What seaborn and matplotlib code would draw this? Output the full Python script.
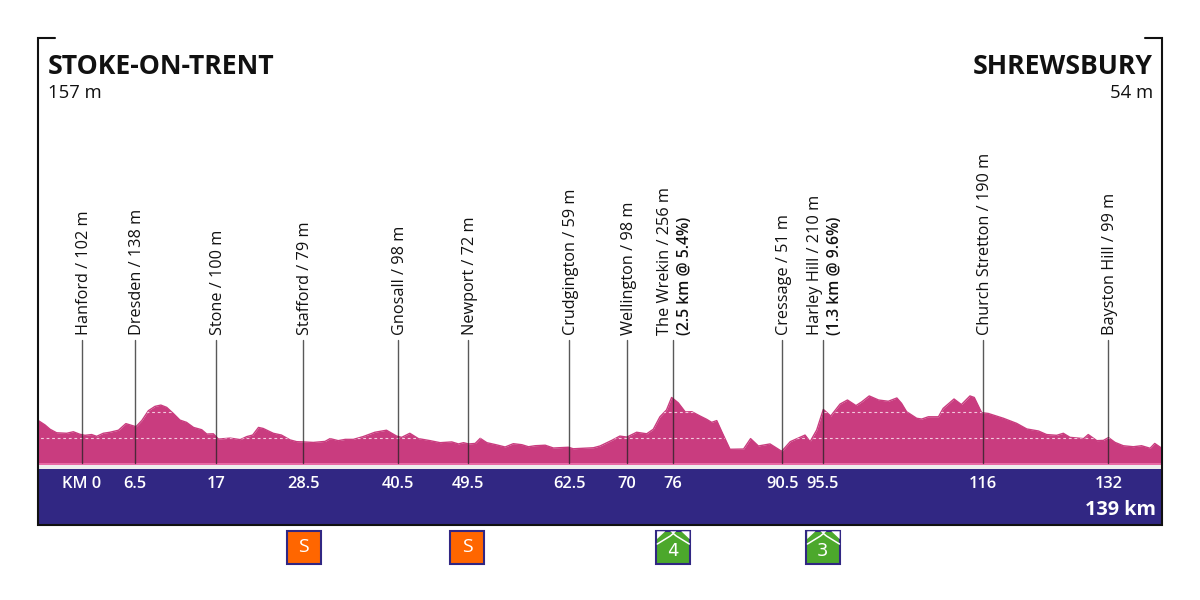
import matplotlib
matplotlib.use("Agg")
import matplotlib.pyplot as plt
import seaborn as sns
import pandas as pd
from matplotlib.patches import Rectangle, Polygon
from matplotlib.transforms import Affine2D

# profile
profile_km = [-5.55, -4.7, -4.05, -3.2, -1.9, -1.05, -0.2, 0.45, 1.3, 1.95, 2.8, 3.65, 4.75, 5.7, 6.45, 7.0,
              7.75, 8.6, 9.45, 10.2, 10.95, 11.8, 12.65, 13.5, 14.4, 15.45, 16.1, 16.95, 17.6, 19.1, 20.4,
              21.25, 22.0, 22.75, 23.35, 24.65, 25.7, 26.8, 27.65, 28.5, 29.8, 31.3, 31.95, 33.0, 33.9, 34.95,
              36.2, 37.7, 39.2, 40.5, 41.15, 42.2, 43.3, 44.8, 46.1, 47.6, 48.45, 49.1, 49.75, 50.6, 51.25,
              52.1, 53.4, 54.45, 55.5, 56.6, 57.45, 58.3, 59.6, 60.65, 62.6, 63.2, 65.8, 66.65, 68.15, 69.2,
              70.1, 71.35, 72.65, 73.5, 74.35, 75.2, 75.85, 76.7, 77.6, 78.45, 79.5, 80.35, 81.0, 81.65, 82.3,
              83.35, 85.1, 86.0, 87.0, 88.5, 90.0, 91.1, 93.0, 93.65, 94.5, 95.35, 96.3, 97.5, 98.45, 99.55,
              100.3, 101.25, 102.45, 103.7, 104.8, 105.4, 106.05, 107.35, 108.0, 108.85, 110.15, 110.75,
              112.15, 113.1, 114.2, 114.75, 115.7, 116.55, 118.5, 120.2, 121.5, 123.0, 124.05, 125.35, 126.2,
              127.05, 128.8, 129.4, 130.5, 131.35, 132.0, 132.85, 133.9, 135.2, 136.25, 137.35, 137.95, 138.85]
profile_m = [167, 150, 133, 119, 117, 123, 113, 109, 112, 105, 117, 121, 129, 155, 148, 143,
             167, 206, 223, 228, 219, 195, 169, 160, 140, 131, 114, 115, 94, 98, 92,
             104, 110, 140, 136, 117, 110, 91, 84, 83, 81, 85, 96, 88, 93, 93,
             104, 121, 129, 106, 101, 117, 96, 88, 80, 83, 75, 80, 75, 77, 97,
             80, 71, 63, 76, 72, 64, 68, 70, 59, 62, 56, 60, 67, 89, 106,
             102, 121, 115, 133, 182, 209, 258, 237, 201, 202, 185, 172, 160, 167, 123,
             54, 55, 96, 67, 75, 46, 84, 110, 84, 130, 211, 185, 232, 248, 226,
             241, 264, 248, 243, 256, 235, 202, 176, 173, 182, 182, 215,
             252, 230, 264, 258, 198, 195, 176, 156, 134, 126, 112, 109, 117,
             101, 96, 112, 88, 89, 100, 81, 68, 64, 68, 58, 77, 58]

# the printed km and where the stem really stands don't quite agree in the picture
stop_ticks = ["KM 0", "6.5", "17", "28.5", "40.5", "49.5", "62.5", "70", "76", "90.5", "95.5", "116", "132"]
stop_km = [0, 6.88, 17.3, 28.5, 40.7, 49.7, 62.7, 70.1, 76, 90.1, 95.3, 115.9, 132]
stop_names = ["Hanford / 102 m", "Dresden / 138 m", "Stone / 100 m", "Stafford / 79 m", "Gnosall / 98 m",
              "Newport / 72 m", "Crudgington / 59 m", "Wellington / 98 m", "The Wrekin / 256 m",
              "Cressage / 51 m", "Harley Hill / 210 m", "Church Stretton / 190 m", "Bayston Hill / 99 m"]
climb_notes = {"The Wrekin / 256 m": "(2.5 km @ 5.4%)", "Harley Hill / 210 m": "(1.3 km @ 9.6%)"}

sprint_km = [28.5, 49.5]
climb_km = [76, 95.3]
climb_cat = ["4", "3"]

PINK = "#c93c7f"
NAVY = "#312783"
GREEN = "#4ca82c"
INK = "#111111"

sns.set_style("white")
plt.rcParams["font.family"] = ["Open Sans", "DejaVu Sans"]

fig = plt.figure(figsize=(12, 6), dpi=100)
ax = fig.add_axes([0, 0, 1, 1])
# km 0 sits at pixel 81.5, sea level at pixel row 463
ax.set_xlim(-81.5 / 7.78, (1200 - 81.5) / 7.78)
ax.set_ylim((463 - 600) / 0.254, 463 / 0.254)

# pixel coordinates, origin top left, for the furniture around the profile
px = Affine2D().scale(1, -1).translate(0, 600)

df = pd.DataFrame({"km": profile_km, "m": profile_m})
fill = ax.fill_between(df["km"], df["m"], 0, color=PINK, lw=0, zorder=2)
sns.lineplot(data=df, x="km", y="m", color=PINK, lw=1, ax=ax, zorder=2, legend=False, errorbar=None, sort=False)
ax.set_axis_off()

for level in [100, 200]:
    ln, = ax.plot([-6, 139], [level, level], color="#f3c9dd", lw=0.8, ls=(0, (2.5, 2.5)), zorder=3)
    ln.set_clip_path(fill.get_paths()[0], ax.transData)

ax.add_patch(Rectangle((39, 463), 1122, 1.5, transform=px, fc="#e86aa6", lw=0, zorder=3))
ax.add_patch(Rectangle((39, 464.5), 1122, 4.5, transform=px, fc="#eeeeee", lw=0, zorder=3))
ax.add_patch(Rectangle((38, 469), 1124, 56, transform=px, fc=NAVY, lw=0, zorder=3))

# frame with the two short top corners
ax.plot([55, 38, 38, 1162, 1162, 1145], [38, 38, 525, 525, 38, 38], transform=px,
        color=INK, lw=1.5, solid_joinstyle="miter", zorder=5)

for km, tick, name in zip(stop_km, stop_ticks, stop_names):
    ax.plot([km, km], [0, 484], color="#222222", alpha=0.75, lw=1, zorder=4)
    xp = 81.5 + km * 7.78
    ax.text(xp, 484.5, tick, transform=px, ha="center", va="center", color="white",
            fontsize=11.8, fontweight="semibold", zorder=6)
    if name in climb_notes:
        ax.text(xp - 7.5, 335, name, transform=px, rotation=90, ha="center", va="bottom",
                fontsize=11.8, color=INK)
        ax.text(xp + 12, 335, climb_notes[name], transform=px, rotation=90, ha="center", va="bottom",
                fontsize=11.3, fontweight="semibold", color=INK)
    else:
        ax.text(xp + 2, 335, name, transform=px, rotation=90, ha="center", va="bottom",
                fontsize=11.7, color=INK)

ax.text(48, 67, "STOKE-ON-TRENT", transform=px, ha="left", va="center", fontsize=19.2, fontweight="bold", color=INK)
ax.text(48, 93.5, "157 m", transform=px, ha="left", va="center", fontsize=13.3, color=INK)
ax.text(1153, 67, "SHREWSBURY", transform=px, ha="right", va="center", fontsize=19.2, fontweight="bold", color=INK)
ax.text(1153, 93.5, "54 m", transform=px, ha="right", va="center", fontsize=13.3, color=INK)
ax.text(1156, 510, "139 km", transform=px, ha="right", va="center", fontsize=14.3, fontweight="bold", color="white", zorder=6)

for km in sprint_km:
    xp = 81.5 + km * 7.78
    ax.add_patch(Rectangle((xp - 16.5, 530.5), 34, 33.5, transform=px, fc="#ff6600", ec=NAVY, lw=1.5))
    ax.text(xp + 0.5, 547, "S", transform=px, ha="center", va="center", fontsize=14, color="white")

for km, cat in zip(climb_km, climb_cat):
    xp = 81.5 + km * 7.78
    ax.add_patch(Rectangle((xp - 16.5, 530.5), 34, 33.5, transform=px, fc=GREEN, ec=NAVY, lw=1.5))
    # white corners, small notch and the white ridge line of the mountain icon
    for sign in [-1, 1]:
        ax.add_patch(Polygon([(xp + 0.5 + sign * 16.2, 531.3), (xp + 0.5 + sign * 8, 531.3), (xp + 0.5 + sign * 16.2, 539)],
                             transform=px, fc="white", lw=0))
    ax.add_patch(Polygon([(xp - 2.5, 531.3), (xp + 3.5, 531.3), (xp + 0.5, 534)], transform=px, fc="white", lw=0))
    ax.plot([xp - 15.5, xp - 2.5, xp + 0.5, xp + 3.5, xp + 16.5], [544, 536, 533.5, 536, 544], transform=px,
            color="white", lw=1.1)
    ax.text(xp, 551, cat, transform=px, ha="center", va="center", fontsize=13, color="white",
            family="DejaVu Sans")

fig.savefig("out.png", dpi=100)
